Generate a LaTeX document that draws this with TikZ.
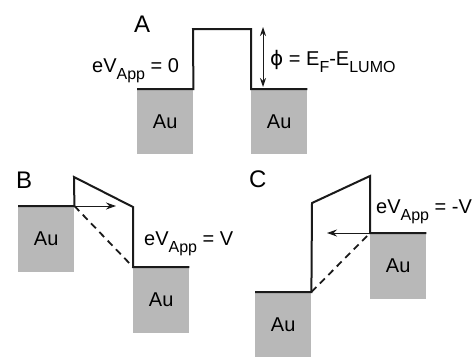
\documentclass[tikz,border=0pt]{standalone}
\usepackage{fontspec}
\setmainfont{Liberation Sans}
\newfontfamily\symfont{DejaVu Sans}
\usetikzlibrary{arrows.meta,positioning}
\definecolor{AuGray}{HTML}{B8B8B8}
\definecolor{LineBlack}{HTML}{1A1A1A}
\newcommand{\lowsub}[1]{\raisebox{-7pt}{\fontsize{16}{16}\selectfont #1}}

\begin{document}
\begin{tikzpicture}[
    x=1pt, y=-1pt,
    au/.style={
      fill=AuGray,
      draw=none,
      minimum width=56pt,
      minimum height=66pt,
      inner sep=0pt,
      anchor=north west,
      font=\fontsize{20}{24}\selectfont
    },
    level/.style={
      draw=LineBlack,
      line width=2pt,
      line join=miter
    },
    tunnel/.style={
      draw=LineBlack,
      line width=1.8pt,
      dash pattern=on 7pt off 5pt
    },
    flow/.style={
      -{Stealth[length=10pt,width=7pt]},
      draw=LineBlack,
      line width=1pt
    },
    gap/.style={
      {Stealth[length=9pt,width=6pt]}-{Stealth[length=9pt,width=6pt]},
      draw=LineBlack,
      line width=1pt
    },
    panel/.style={
      inner sep=0pt,
      anchor=base west,
      font=\fontsize{24}{28}\selectfont
    },
    eq/.style={
      inner sep=0pt,
      anchor=base west,
      font=\fontsize{20}{24}\selectfont
    }
  ]
  \useasboundingbox (0,0) rectangle (476,356);

  % Panel A
  \node[panel] (lblA) at (134,32) {A};
  \node[au, minimum height=65pt] (auAL) at (137,89) {Au};
  \node[au, minimum height=65pt] (auAR) at (251,89) {Au};
  \coordinate (barAl) at (193,29);
  \coordinate (barAr) at (251,29);
  \draw[level] (auAL.north west) -- (auAL.north east) -- (barAl)
    -- (barAr) -- (auAR.north west) -- (auAR.north east);
  \coordinate (phiTop) at (263,27);
  \coordinate (phiBot) at (263,87);
  \draw[gap] (phiTop) -- (phiBot);
  \node[eq] (eqA) at (92,72) {eV\lowsub{App} = 0};
  \node[eq] (phiA) at (270,65) {{\symfont ϕ} = E\lowsub{F}-E\lowsub{LUMO}};

  % Panel B
  \node[panel] (lblB) at (16,188) {B};
  \node[au] (auBL) at (18,206) {Au};
  \node[au] (auBR) at (133,267) {Au};
  \coordinate (barBl) at (74,177);
  \coordinate (barBr) at (133,207);
  \coordinate (arrB) at (116,206);
  \draw[level] (auBL.north west) -- (auBL.north east) -- (barBl)
    -- (barBr) -- (auBR.north west) -- (auBR.north east);
  \draw[tunnel] (auBL.north east) -- (auBR.north west);
  \draw[flow] (auBL.north east) -- (arrB);
  \node[eq] (eqB) at (144,245) {eV\lowsub{App} = V};

  % Panel C
  \node[panel] (lblC) at (249,187) {C};
  \node[au] (auCL) at (255,292) {Au};
  \node[au] (auCR) at (370,233) {Au};
  \coordinate (barCl) at (312,203);
  \coordinate (barCr) at (370,176);
  \coordinate (arrC) at (327,233);
  \draw[level] (auCL.north west) -- (auCL.north east) -- (barCl)
    -- (barCr) -- (auCR.north west) -- (auCR.north east);
  \draw[tunnel] (auCL.north east) -- (auCR.north west);
  \draw[flow] (auCR.north west) -- (arrC);
  \node[eq] (eqC) at (376,213) {eV\lowsub{App} = -V};

\end{tikzpicture}
\end{document}
